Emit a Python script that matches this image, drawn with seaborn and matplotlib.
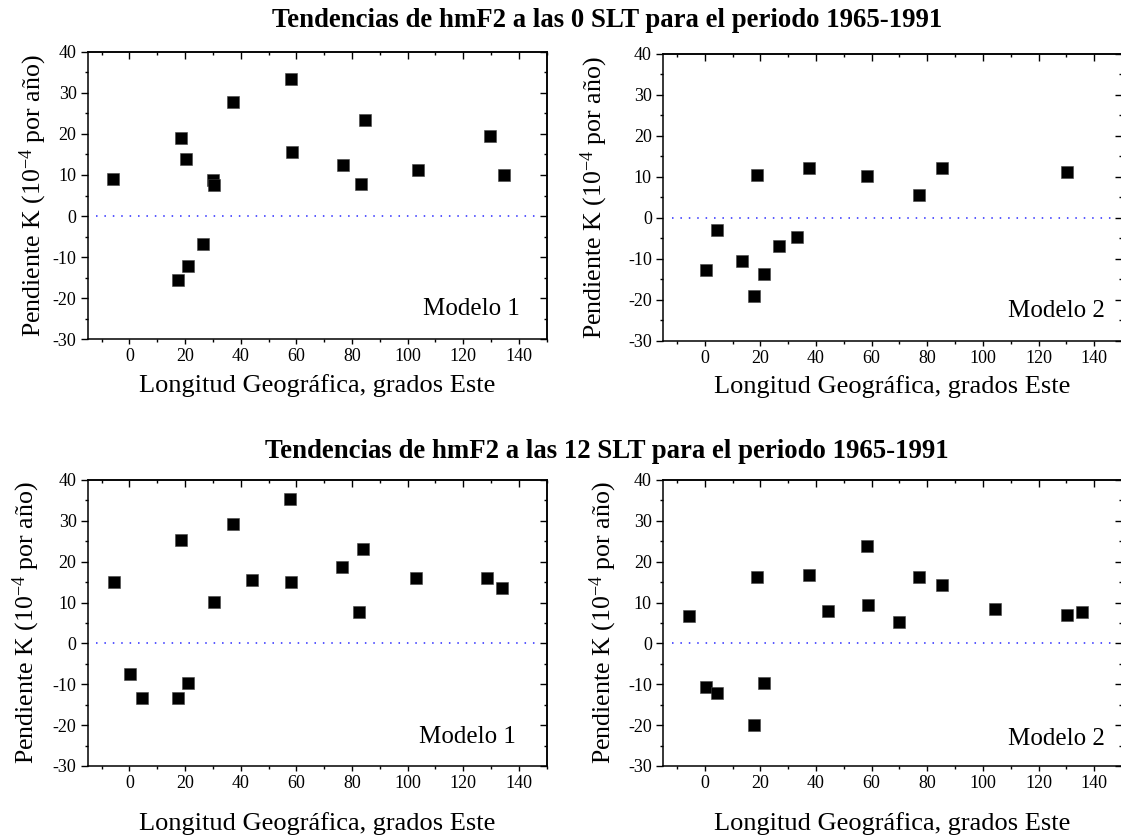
import matplotlib
matplotlib.use("Agg")
import matplotlib.pyplot as plt
from matplotlib.ticker import MultipleLocator
import seaborn as sns
import pandas as pd

# ---- data (longitude [deg E], slope K [1e-4 per year]) ----
lon_0slt_m1 = [-5.8, 18.7, 20.4, 17.4, 21.2, 26.4, 30.1, 30.5, 37.2, 58.2, 58.5, 76.7, 83.1, 84.6, 103.7, 129.5, 134.7]
k_0slt_m1 = [9.1, 19.0, 14.0, -15.6, -12.1, -6.8, 8.8, 7.6, 27.8, 33.4, 15.7, 12.5, 7.9, 23.4, 11.1, 19.5, 10.1]

lon_0slt_m2 = [0.3, 4.5, 13.4, 17.7, 18.7, 21.3, 26.7, 33.0, 37.4, 58.5, 77.2, 85.2, 130.1]
k_0slt_m2 = [-12.7, -2.9, -10.5, -19.2, 10.5, -13.7, -7.0, -4.7, 12.1, 10.1, 5.6, 12.2, 11.1]

lon_12slt_m1 = [-5.6, 0.1, 4.6, 17.3, 18.6, 20.9, 30.3, 37.1, 43.9, 57.8, 58.2, 76.3, 82.4, 84.1, 103.1, 128.5, 133.9]
k_12slt_m1 = [15.0, -7.6, -13.3, -13.3, 25.3, -9.8, 10.1, 29.2, 15.5, 35.3, 15.0, 18.8, 7.6, 23.2, 16.0, 16.1, 13.5]

lon_12slt_m2 = [-5.7, 0.3, 4.5, 17.7, 18.7, 21.3, 37.4, 44.4, 58.5, 58.8, 69.8, 77.2, 85.2, 104.3, 130.1, 135.6]
k_12slt_m2 = [6.7, -10.7, -12.1, -20.0, 16.3, -9.8, 16.8, 8.0, 23.8, 9.3, 5.2, 16.3, 14.2, 8.4, 7.0, 7.7]

title_top = "Tendencias de hmF2 a las 0 SLT para el periodo 1965-1991"
title_bottom = "Tendencias de hmF2 a las 12 SLT para el periodo 1965-1991"
xlabel = "Longitud Geográfica, grados Este"
ylabel = "Pendiente K (10$^{\\mathsf{-}4}$ por año)"
x_ticks = [0, 20, 40, 60, 80, 100, 120, 140]
y_ticks = [-30, -20, -10, 0, 10, 20, 30, 40]

sns.set_style("ticks")
plt.rcParams["font.family"] = ["Liberation Serif", "DejaVu Serif"]
plt.rcParams["axes.unicode_minus"] = False
plt.rcParams["mathtext.fontset"] = "custom"
plt.rcParams["mathtext.rm"] = "Liberation Serif"
plt.rcParams["mathtext.sf"] = "Liberation Serif"
plt.rcParams["mathtext.it"] = "Liberation Serif:italic"
for key in ["text.color", "axes.labelcolor", "xtick.color", "ytick.color", "axes.edgecolor"]:
    plt.rcParams[key] = "black"

W, H = 1121, 839
fig = plt.figure(figsize=(W / 100, H / 100), dpi=100)
fig.patch.set_facecolor("white")


def frac(x0, x1, ytop, ybot):
    return [x0 / W, 1 - ybot / H, (x1 - x0) / W, (ybot - ytop) / H]


panels = [
    (frac(87.7, 546.7, 51.7, 339.3), lon_0slt_m1, k_0slt_m1, "Modelo 1", -0.119, -0.121, (0.942, 0.085)),
    (frac(663.0, 1122.0, 54.0, 340.7), lon_0slt_m2, k_0slt_m2, "Modelo 2", -0.150, -0.121, (0.963, 0.083)),
    (frac(87.7, 546.7, 480.0, 766.0), lon_12slt_m1, k_12slt_m1, "Modelo 1", -0.134, -0.161, (0.933, 0.08)),
    (frac(663.0, 1122.0, 480.0, 766.0), lon_12slt_m2, k_12slt_m2, "Modelo 2", -0.131, -0.161, (0.963, 0.073)),
]

for rect, xs, ys, label, ylx, xly, txtpos in panels:
    ax = fig.add_axes(rect)
    df = pd.DataFrame({"lon": xs, "k": ys})
    ax.axhline(0, xmin=0.019, xmax=0.979, color="#2a2aff", linestyle=(0, (1, 4.5)), linewidth=1.1, zorder=1)
    sns.scatterplot(data=df, x="lon", y="k", ax=ax, marker="s", s=70, color="black",
                    edgecolor="#444444", linewidth=0.4, zorder=3, legend=False)
    ax.set_xlim(-15, 150)
    ax.set_ylim(-30, 40)
    ax.set_xticks(x_ticks)
    ax.set_yticks(y_ticks)
    ax.xaxis.set_minor_locator(MultipleLocator(10))
    ax.yaxis.set_minor_locator(MultipleLocator(5))
    ax.tick_params(axis="x", which="major", direction="out", length=3.6, width=1.0,
                   labelsize=13, pad=3, colors="black")
    ax.tick_params(axis="y", which="major", direction="out", length=5.0, width=1.0,
                   labelsize=13, pad=3, colors="black")
    ax.tick_params(axis="both", which="minor", direction="out", length=2.2, width=1.0, colors="black")
    for s in ["top", "right", "left", "bottom"]:
        ax.spines[s].set_visible(True)
        ax.spines[s].set_linewidth(1.1)
        ax.spines[s].set_color("black")
    # mirrored inward ticks on top/right
    secx = ax.secondary_xaxis("top")
    secx.set_xticks(x_ticks)
    secx.xaxis.set_minor_locator(MultipleLocator(10))
    secx.tick_params(which="major", direction="in", length=4.8, width=1.0, labeltop=False, colors="black")
    secx.tick_params(which="minor", direction="in", length=2.0, width=1.0, colors="black")
    secx.spines["top"].set_linewidth(1.1)
    secy = ax.secondary_yaxis("right")
    secy.set_yticks(y_ticks)
    secy.yaxis.set_minor_locator(MultipleLocator(5))
    secy.tick_params(which="major", direction="in", length=4.8, width=1.0, labelright=False, colors="black")
    secy.tick_params(which="minor", direction="in", length=2.0, width=1.0, colors="black")
    secy.spines["right"].set_linewidth(1.1)

    ax.set_xlabel(xlabel, fontsize=19, va="top", color="black")
    ax.set_ylabel(ylabel, fontsize=18.6, va="center", color="black")
    ax.xaxis.set_label_coords(0.5, xly)
    ax.yaxis.set_label_coords(ylx, 0.5)
    ax.text(txtpos[0], txtpos[1], label, transform=ax.transAxes, ha="right", va="baseline",
            fontsize=18, color="black")

fig.text(0.5415, 1 - 27 / H, title_top, ha="center", va="baseline", fontsize=19.3,
         fontweight="bold", color="black")
fig.text(0.5415, 1 - 458 / H, title_bottom, ha="center", va="baseline", fontsize=19.3,
         fontweight="bold", color="black")

fig.savefig("out.png", dpi=100, facecolor="white")
